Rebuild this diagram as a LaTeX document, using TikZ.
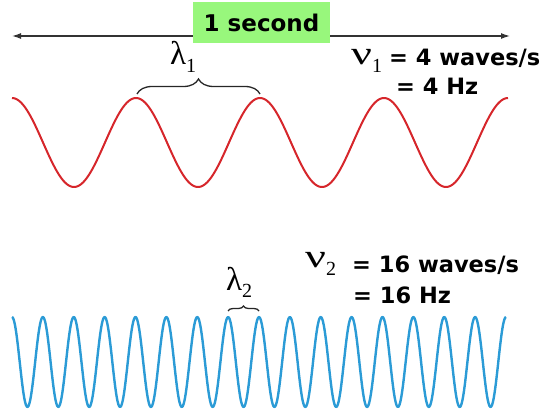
\documentclass[tikz,border=0pt]{standalone}
\usepackage{graphicx}
\usepackage{fontspec}
\setmainfont{DejaVu Sans}
\newfontfamily\grk{Liberation Serif}
\usetikzlibrary{arrows.meta,decorations.pathreplacing}
\definecolor{boxgreen}{HTML}{98F77C}
\definecolor{wavered}{HTML}{D6262B}
\definecolor{waveblue}{HTML}{2B9BD6}
\definecolor{arrowgray}{HTML}{333333}
\begin{document}
\begin{tikzpicture}[x=1pt,y=-1pt,
  lbl/.style={anchor=base west, inner sep=0pt, font=\bfseries\fontsize{22.5}{22.5}\selectfont},
  greek/.style={anchor=base west, inner sep=0pt, font=\grk\fontsize{33}{33}\selectfont},
  bracestyle/.style={draw=black!85, line width=1.3pt, decorate, decoration={brace, amplitude=#1}},
  wave/.style={line width=2pt, line join=round}]
\useasboundingbox (0,0) rectangle (548,409);
% time arrow
\coordinate (al) at (12,36);
\coordinate (ar) at (510,36);
\draw[arrowgray, line width=1.3pt, {Latex[length=9pt,width=6pt]}-{Latex[length=9pt,width=6pt]}] (al) -- (ar);
\node[fill=boxgreen, minimum width=137pt, minimum height=41pt, inner sep=0pt,
      font=\bfseries\fontsize{23}{23}\selectfont] (box) at (261.5,22.5) {1 second};
% waves
\draw[wave, wavered] plot[domain=12:508, samples=300, smooth] (\x, {142.5-44.5*cos((\x-12)/124*360)});
\draw[wave, waveblue, line width=2.4pt] plot[domain=12:506, samples=600, smooth] (\x, {362-45*cos((\x-12)/30.875*360)});
% braces
\coordinate (b1s) at (137,94);
\coordinate (b1e) at (260,94);
\draw[bracestyle=15pt] (b1s) -- (b1e);
\coordinate (b2s) at (228,311);
\coordinate (b2e) at (259,311);
\draw[bracestyle=5pt] (b2s) -- (b2e);
% labels
\node[greek] (lam1) at (170,65) {λ\raisebox{-8pt}{\fontsize{20}{20}\selectfont 1}};
\node[greek] (nu1) at (351,65) {\scalebox{1.4}[1]{ν}\raisebox{-8pt}{\fontsize{20}{20}\selectfont 1}};
\node[lbl] (f1a) at (389,66) {= 4 waves/s};
\node[lbl] (f1b) at (396,95) {= 4 Hz};
\node[greek] (lam2) at (226,290) {λ\raisebox{-7pt}{\fontsize{20}{20}\selectfont 2}};
\node[greek] (nu2) at (305,267) {\scalebox{1.4}[1]{ν}\raisebox{-8pt}{\fontsize{20}{20}\selectfont 2}};
\node[lbl] (f2a) at (352,272) {= 16 waves/s};
\node[lbl] (f2b) at (353,303) {= 16 Hz};
\end{tikzpicture}
\end{document}
